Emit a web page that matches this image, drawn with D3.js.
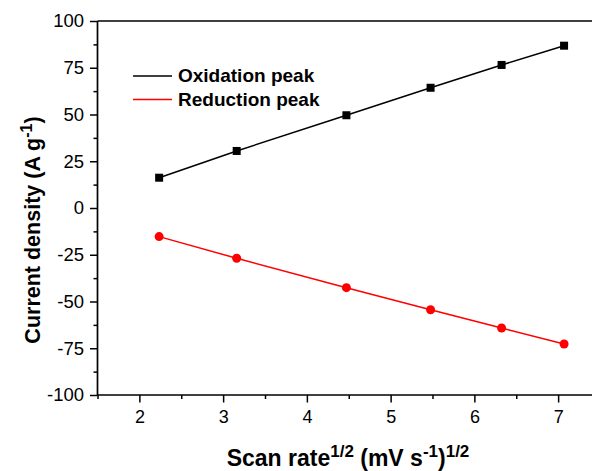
<!DOCTYPE html>
<html><head><meta charset="utf-8">
<script src="https://cdn.jsdelivr.net/npm/d3@7"></script>
<style>body{margin:0;background:#fff;}svg{display:block;}svg text{font-family:Arial,"Liberation Sans",sans-serif;}</style>
</head><body>
<script>
const scanRateSqrt = [2.236, 3.162, 4.472, 5.477, 6.325, 7.071];
const oxidationPeak = [16.2, 30.5, 49.6, 64.3, 76.5, 86.8];
const reductionPeak = [-15.3, -26.9, -42.6, -54.4, -64.2, -72.7];
const xTicks = [2, 3, 4, 5, 6, 7];
const yTicks = [100, 75, 50, 25, 0, -25, -50, -75, -100];
const seriesNames = ["Oxidation peak", "Reduction peak"];

const W = 592, H = 471;
const m = {left: 97.5, top: 21, right: 600, bottom: 395};
const svg = d3.select("body").append("svg").attr("width", W).attr("height", H);
const x = d3.scaleLinear().domain([1.5, 7.5]).range([m.left, m.right]);
const y = d3.scaleLinear().domain([-100, 100]).range([m.bottom, m.top]);
const fmt = d => String(d);

const xMinor = d3.range(1.5, 7.51, 0.5).filter(v => !xTicks.includes(v));
const yMinor = d3.range(-87.5, 100, 25);

const gx = svg.append("g").attr("transform", `translate(0,${m.bottom})`)
  .call(d3.axisBottom(x).tickValues(xTicks).tickSize(7.5).tickPadding(7.5).tickFormat(fmt));
gx.select(".domain").remove();
gx.selectAll("text").style("font-size", "18px").attr("fill", "#000");
gx.selectAll("line").attr("stroke-width", 1.5);
svg.append("g").attr("transform", `translate(0,${m.bottom})`)
  .call(d3.axisBottom(x).tickValues(xMinor).tickSize(4).tickFormat(""))
  .call(g => g.select(".domain").remove()).selectAll("line").attr("stroke-width", 1.5);

const gy = svg.append("g").attr("transform", `translate(${m.left},0)`)
  .call(d3.axisLeft(y).tickValues(yTicks).tickSize(7.5).tickPadding(6).tickFormat(fmt));
gy.select(".domain").remove();
gy.selectAll("text").style("font-size", "18.5px").attr("fill", "#000");
gy.selectAll("line").attr("stroke-width", 1.5);
svg.append("g").attr("transform", `translate(${m.left},0)`)
  .call(d3.axisLeft(y).tickValues(yMinor).tickSize(4).tickFormat(""))
  .call(g => g.select(".domain").remove()).selectAll("line").attr("stroke-width", 1.5);

svg.append("line").attr("x1", m.left).attr("x2", W).attr("y1", m.bottom).attr("y2", m.bottom).attr("stroke", "#000").attr("stroke-width", 1.7);
svg.append("line").attr("x1", m.left).attr("x2", W).attr("y1", m.top).attr("y2", m.top).attr("stroke", "#000").attr("stroke-width", 1.7);
svg.append("line").attr("x1", m.left).attr("x2", m.left).attr("y1", m.top).attr("y2", m.bottom).attr("stroke", "#000").attr("stroke-width", 1.7);

const line = d3.line().x((d, i) => x(scanRateSqrt[i])).y(d => y(d));
svg.append("path").datum(oxidationPeak).attr("d", line).attr("fill", "none").attr("stroke", "#000").attr("stroke-width", 1.5);
svg.append("path").datum(reductionPeak).attr("d", line).attr("fill", "none").attr("stroke", "#f00").attr("stroke-width", 1.5);
svg.selectAll(".sq").data(oxidationPeak).enter().append("rect")
  .attr("x", (d, i) => x(scanRateSqrt[i]) - 4).attr("y", d => y(d) - 4)
  .attr("width", 8).attr("height", 8).attr("fill", "#000");
svg.selectAll(".ci").data(reductionPeak).enter().append("circle")
  .attr("cx", (d, i) => x(scanRateSqrt[i])).attr("cy", d => y(d)).attr("r", 4.5).attr("fill", "#f00");

const legColors = ["#000", "#f00"];
seriesNames.forEach((n, i) => {
  const ly = 76 + i * 23.5;
  svg.append("line").attr("x1", 133).attr("x2", 172).attr("y1", ly).attr("y2", ly).attr("stroke", legColors[i]).attr("stroke-width", 1.5);
  svg.append("text").attr("x", 178).attr("y", ly + 6).style("font-size", "19px").attr("font-weight", "bold").text(n);
});

const xt = svg.append("text").attr("x", 348).attr("y", 466).attr("text-anchor", "middle")
  .style("font-size", "23px").attr("font-weight", "bold");
xt.append("tspan").text("Scan rate");
xt.append("tspan").attr("dy", -9).style("font-size", "17px").text("1/2");
xt.append("tspan").attr("dy", 9).text(" (mV s");
xt.append("tspan").attr("dy", -9).style("font-size", "17px").text("-1");
xt.append("tspan").attr("dy", 9).text(")");
xt.append("tspan").attr("dy", -9).style("font-size", "17px").text("1/2");

const yt = svg.append("text").attr("transform", "translate(40,230) rotate(-90)").attr("text-anchor", "middle")
  .style("font-size", "21.5px").attr("font-weight", "bold");
yt.append("tspan").text("Current density (A g");
yt.append("tspan").attr("dy", -8).style("font-size", "16px").text("-1");
yt.append("tspan").attr("dy", 8).text(")");
</script>
</body></html>
